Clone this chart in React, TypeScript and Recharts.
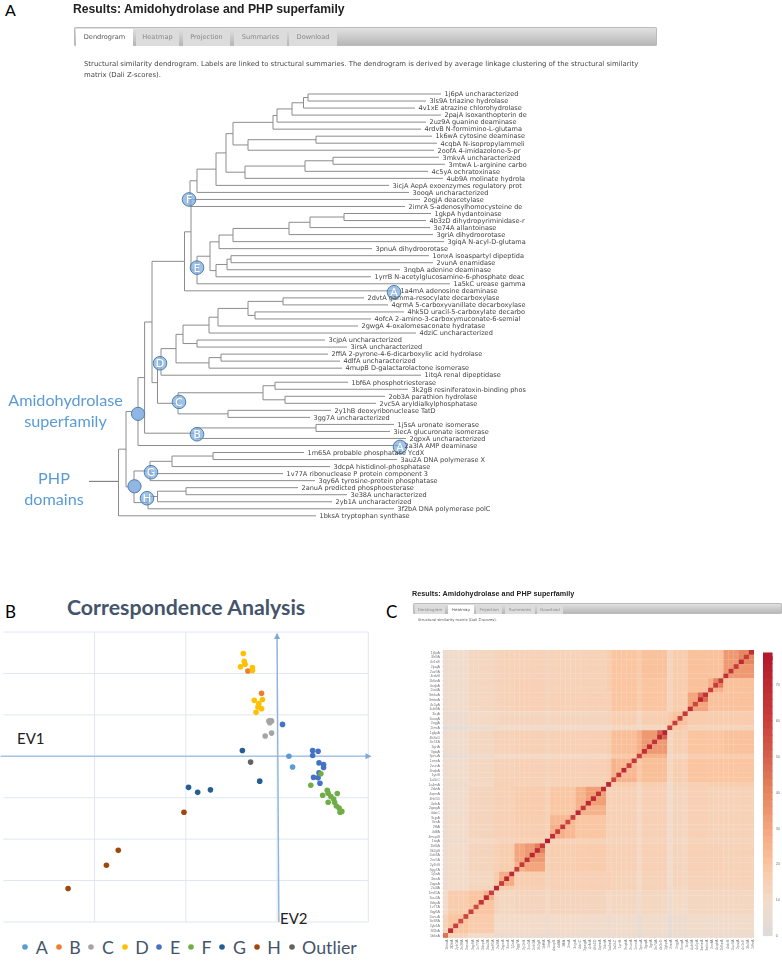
import React from 'react';
import {
  ComposedChart, ScatterChart, Scatter, Line, XAxis, YAxis, LabelList, CartesianGrid,
  ReferenceLine, ReferenceDot, Legend,
} from 'recharts';

const leafNames = [
  '1j6pA uncharacterized', '3ls9A triazine hydrolase', '4v1xE atrazine chlorohydrolase', '2pajA isoxanthopterin de',
  '2uz9A guanine deaminase', '4rdvB N-formimino-L-glutama', '1k6wA cytosine deaminase', '4cqbA N-isopropylammeli',
  '2oofA 4-imidazolone-5-pr', '3mkvA uncharacterized', '3mtwA L-arginine carbo', '4c5yA ochratoxinase',
  '4ub9A molinate hydrola', '3icjA AepA exoenzymes regulatory prot', '3ooqA uncharacterized', '2ogjA deacetylase',
  '2imrA S-adenosylhomocysteine de', '1gkpA hydantoinase', '4b3zD dihydropyriminidase-r', '3e74A allantoinase',
  '3griA dihydroorotase', '3giqA N-acyl-D-glutama', '3pnuA dihydroorotase', '1onxA isoaspartyl dipeptida',
  '2vunA enamidase', '3nqbA adenine deaminase', '1yrrB N-acetylglucosamine-6-phosphate deac', '1a5kC urease gamma',
  '1a4mA adenosine deaminase', '2dvtA gamma-resocylate decarboxylase', '4qrmA 5-carboxyvanillate decarboxylase',
  '4hk5D uracil-5-carboxylate decarbo', '4ofcA 2-amino-3-carboxymuconate-6-semial', '2gwgA 4-oxalomesaconate hydratase',
  '4dziC uncharacterized', '3cjpA uncharacterized', '3irsA uncharacterized', '2ffiA 2-pyrone-4-6-dicarboxylic acid hydrolase',
  '4dlfA uncharacterized', '4mupB D-galactarolactone isomerase', '1itqA renal dipeptidase', '1bf6A phosphotriesterase',
  '3k2gB resiniferatoxin-binding phos', '2ob3A parathion hydrolase', '2vc5A aryldialkylphosphatase', '2y1hB deoxyribonuclease TatD',
  '3gg7A uncharacterized', '1j5sA uronate isomerase', '3iecA glucuronate isomerase', '2qpxA uncharacterized', '2a3lA AMP deaminase',
  '1m65A probable phosphatase YcdX', '3au2A DNA polymerase X', '3dcpA histidinol-phosphatase', '1v77A ribonuclease P protein component 3',
  '3qy6A tyrosine-protein phosphatase', '2anuA predicted phosphoesterase', '3e38A uncharacterized', '2yb1A uncharacterized',
  '3f2bA DNA polymerase polC', '1bksA tryptophan synthase',
];
const leafEnds = [
  441, 426, 415, 441, 426, 421, 432, 437, 434, 439, 445, 428, 443, 389, 409, 420, 405, 431, 426, 430, 433, 444, 372, 429, 433, 400, 371,
  450, 397, 364, 388, 404, 371, 358, 416, 325, 347, 328, 340, 342, 421, 348, 408, 385, 376, 331, 310, 394, 390, 406, 401, 304, 397, 330,
  283, 315, 298, 347, 332, 394, 316,
];
// [branch position, ...children]; a number child is a 1-based leaf.
const cladeF = [190, [197, [216, [226, [233, [273, [277, [292, [303.5, [308, 1, 2], 3], 4], 5], 6], [248, [316, 7, 8], 9]], [245, [305, [333, 10, 11], 12], 13]], 14], 15], 16, 17];
const cladeE = [197, [210, [219, [233, [289, [310, [344, 18, 19], 20], 21], 22], 23], [216, [227, [231, 24, 25], 26], 27]], 28];
const cladeD = [161, [176, [183, [209, [218, [248, [283, 30, 31], [255, 32, 33]], 34], 35], [197, 36, 37]], [209, [221, 38, 39], 40]], 41];
const cladeC = [178, [263, [275, 42, 43], [285, 44, 45]], [228, 46, 47]];
const cladeB = [197, [316, 48, 49], 50];
const cladeG = [150, [172, [213, 52, 53], 54], 55, 56];
const cladeH = [148, [157.5, [186, 57, 58], 59], 60];
const cladeAmido = [138, [144.6, [152, [184.5, [191, cladeF, cladeE], 29], [157.5, cladeD, cladeC]], cladeB], 51];
const treeRoot = [118.5, [126, cladeAmido, [134, cladeG, cladeH]], 61];

const nodeBadges = [
  { x: 189, y: 15.0, t: 'F' }, { x: 197, y: 24.7, t: 'E' }, { x: 394, y: 28.2, t: 'A' }, { x: 160, y: 38.3, t: 'D' },
  { x: 179, y: 43.8, t: 'C' }, { x: 197, y: 48.4, t: 'B' }, { x: 400, y: 50.2, t: 'A' }, { x: 151, y: 53.8, t: 'G' },
  { x: 147, y: 57.5, t: 'H' }, { x: 138, y: 45.5, t: '' }, { x: 134.5, y: 55.8, t: '' },
];

type Pt = { x: number; y: number | null };
function walk(node: any, out: Pt[]): { x: number; y: number } {
  if (typeof node === 'number') return { x: leafEnds[node - 1], y: node - 1 };
  const [bx, ...kids] = node;
  const pos = kids.map((k: any) => walk(k, out));
  const y = (pos[0].y + pos[pos.length - 1].y) / 2;
  out.push({ x: bx, y: pos[0].y }, { x: bx, y: pos[pos.length - 1].y }, { x: bx, y: null });
  pos.forEach((p: any) => out.push({ x: bx, y: p.y }, { x: p.x, y: p.y }, { x: p.x, y: null }));
  return { x: bx, y };
}
const treePath: Pt[] = [];
walk(treeRoot, treePath);
const leafPoints = leafNames.map((name, i) => ({ x: leafEnds[i], y: i, name }));

const seriesA = [{ x: 0.13, y: 0 }, { x: 0.17, y: -0.26 }];
const seriesB = [{ x: -0.32, y: 2.06 }, { x: -0.17, y: 1.52 }];
const seriesC = [{ x: -0.09, y: 0.85 }, { x: -0.07, y: 0.86 }, { x: -0.08, y: 0.81 }, { x: -0.06, y: 0.85 }, { x: -0.06, y: 0.56 }, { x: -0.13, y: 0.49 }];
const seriesD = [{ x: -0.37, y: 2.48 }, { x: -0.36, y: 2.29 }, { x: -0.35, y: 2.22 }, { x: -0.4, y: 2.16 }, { x: -0.27, y: 2.14 }, { x: -0.27, y: 2.07 }, { x: -0.25, y: 1.35 }, { x: -0.16, y: 1.37 }, { x: -0.2, y: 1.27 }, { x: -0.21, y: 1.19 }, { x: -0.17, y: 1.15 }, { x: -0.23, y: 1.06 }];
const seriesE = [{ x: 0.06, y: 0.77 }, { x: 0.39, y: 0.14 }, { x: 0.45, y: 0.12 }, { x: 0.39, y: 0.02 }, { x: 0.46, y: -0.16 }, { x: 0.51, y: -0.2 }, { x: 0.51, y: -0.27 }, { x: 0.46, y: -0.4 }, { x: 0.4, y: -0.51 }, { x: 0.45, y: -0.52 }, { x: 0.47, y: -0.65 }];
const seriesF = [{ x: 0.48, y: -0.42 }, { x: 0.37, y: -0.7 }, { x: 0.55, y: -0.82 }, { x: 0.56, y: -0.89 }, { x: 0.5, y: -0.94 }, { x: 0.66, y: -0.9 }, { x: 0.59, y: -0.97 }, { x: 0.62, y: -1.03 }, { x: 0.56, y: -1.11 }, { x: 0.63, y: -1.11 }, { x: 0.65, y: -1.2 }, { x: 0.68, y: -1.25 }, { x: 0.71, y: -1.33 }, { x: 0.69, y: -1.35 }];
const seriesG = [{ x: -0.38, y: 0.14 }, { x: -0.19, y: -0.6 }, { x: -0.97, y: -0.75 }, { x: -0.87, y: -0.87 }, { x: -0.73, y: -0.81 }];
const seriesH = [{ x: -1.02, y: -1.35 }, { x: -1.74, y: -2.27 }, { x: -1.87, y: -2.63 }, { x: -2.29, y: -3.19 }];
const seriesOutlier = [{ x: -0.29, y: -0.14 }];
const caSeries = [
  { name: 'A', color: '#5b9bd5', data: seriesA }, { name: 'B', color: '#ed7d31', data: seriesB },
  { name: 'C', color: '#a5a5a5', data: seriesC }, { name: 'D', color: '#ffc000', data: seriesD },
  { name: 'E', color: '#4472c4', data: seriesE }, { name: 'F', color: '#70ad47', data: seriesF },
  { name: 'G', color: '#255e91', data: seriesG }, { name: 'H', color: '#9e480e', data: seriesH },
  { name: 'Outlier', color: '#636363', data: seriesOutlier },
];
const caXGrid = [-3, -2, -1, 0, 1];
const caYGrid = [-4, -3, -2, -1, 0, 1, 2, 3];

// Last leaf (1-based) of each block of the similarity matrix.
const blockEnds = [6, 9, 13, 17, 23, 28, 29, 35, 40, 41, 47, 50, 51, 56, 60, 61];
const blockZ = [
  [30, 21, 21, 17, 21, 20, 17, 14, 14, 14, 14, 14, 13, 12, 9, 8],
  [21, 28, 21, 17, 20, 20, 17, 14, 14, 14, 15, 14, 13, 12, 9, 8],
  [21, 21, 30, 17, 20, 20, 16, 15, 15, 14, 15, 14, 13, 12, 9, 8],
  [17, 17, 17, 22, 16, 16, 15, 13, 13, 13, 13, 13, 12, 11, 8, 7],
  [21, 20, 20, 16, 30, 22, 17, 15, 15, 14, 15, 14, 14, 12, 9, 8],
  [20, 20, 20, 16, 22, 26, 18, 15, 15, 14, 15, 14, 14, 12, 9, 8],
  [17, 17, 16, 15, 17, 18, 30, 15, 15, 14, 15, 16, 16, 12, 9, 8],
  [14, 14, 15, 13, 15, 15, 15, 30, 19, 15, 17, 15, 15, 13, 9, 8],
  [14, 14, 15, 13, 15, 15, 15, 19, 24, 15, 16, 15, 15, 13, 10, 8],
  [14, 14, 14, 13, 14, 14, 14, 15, 15, 30, 15, 14, 13, 12, 9, 8],
  [14, 15, 15, 13, 15, 15, 15, 17, 16, 15, 30, 16, 15, 13, 10, 8],
  [14, 14, 14, 13, 14, 14, 16, 15, 15, 14, 16, 32, 17, 12, 10, 8],
  [13, 13, 13, 12, 14, 14, 16, 15, 15, 13, 15, 17, 30, 13, 10, 8],
  [12, 12, 12, 11, 12, 12, 12, 13, 13, 12, 13, 12, 13, 20, 17, 10],
  [9, 9, 9, 8, 9, 9, 9, 9, 10, 9, 10, 10, 10, 17, 20, 14],
  [8, 8, 8, 7, 8, 8, 8, 8, 8, 8, 8, 8, 8, 10, 14, 40],
];
// [first leaf, last leaf, z] for the darker squares along the diagonal.
const hotSquares = [
  [1, 6, 34], [1, 3, 40], [7, 9, 27], [7, 8, 42], [10, 13, 30], [10, 11, 47], [18, 22, 34], [18, 19, 50], [24, 27, 24],
  [30, 35, 26], [30, 33, 32], [36, 37, 24], [38, 40, 27], [42, 45, 34], [42, 43, 42], [46, 47, 26], [48, 49, 42],
  [48, 50, 28], [52, 56, 20], [52, 53, 26], [57, 60, 20],
];
const stripeLeaves = [[17, -4], [23, -4], [14, -1], [41, -1], [29, -1]];
const diagonalZ = [68, 62, 70, 62, 66, 68, 64, 62, 60, 66, 72, 58, 68, 64, 60, 62, 60, 74, 70, 66, 70, 68, 60, 64, 62, 70, 66, 58, 72, 70, 66, 70, 72, 64, 72, 60, 58, 64, 62, 68, 76, 64, 70, 72, 68, 64, 62, 70, 72, 62, 72, 60, 70, 66, 56, 60, 58, 56, 60, 70, 45];
const colorStops: [number, number[]][] = [
  [0, [220, 220, 220]], [10, [243, 219, 201]], [20, [250, 197, 160]], [30, [244, 165, 125]],
  [40, [230, 135, 95]], [50, [214, 96, 77]], [60, [203, 63, 58]], [79, [178, 24, 43]],
];
const colorBarSteps = [1, 3, 5, 7, 9, 11, 13, 15, 17, 19, 21, 23, 25, 27, 29, 31, 33, 35, 37, 39, 41, 43, 45, 47, 49, 51, 53, 55, 57, 59, 61, 63, 65, 67, 69, 71, 73, 75, 77, 78];
const colorBarTicks = [0, 10, 20, 30, 40, 50, 60, 70];

function zColor(z: number) {
  for (let i = 1; i < colorStops.length; i++) {
    const [b, cb] = colorStops[i];
    const [a, ca] = colorStops[i - 1];
    if (z <= b) {
      const t = (z - a) / (b - a);
      return `rgb(${ca.map((c, k) => Math.round(c + (cb[k] - c) * t)).join(',')})`;
    }
  }
  return 'rgb(178,24,43)';
}
const blockOf = (leaf: number) => blockEnds.findIndex((e) => leaf <= e);
function cellZ(r: number, c: number) {
  if (r === c) return diagonalZ[r - 1];
  let z = blockZ[blockOf(r)][blockOf(c)];
  hotSquares.forEach(([a, b, v]) => {
    if (r >= a && r <= b && c >= a && c <= b) z = v;
  });
  stripeLeaves.forEach(([l, d]) => {
    if (r === l || c === l) z += d;
  });
  return z;
}
const heatCells: { x: number; y: number; z: number }[] = [];
leafNames.forEach((_, ri) => leafNames.forEach((__, ci) => {
  heatCells.push({ x: ci + 0.5, y: ri + 0.5, z: cellZ(ri + 1, 61 - ci) });
}));
const heatTicks = leafNames.map((_, i) => i + 0.5);
const shortName = (i: number) => leafNames[i].split(' ')[0];

const HEAT_W = 311;
const HEAT_H = 287.7;

const abs = (left: number, top: number, extra: React.CSSProperties = {}): React.CSSProperties => ({
  position: 'absolute', left, top, whiteSpace: 'nowrap', ...extra,
});

function Tabs({ left, top, width, height, font, tabs, active }: any) {
  return (
    <div style={abs(left, top, { width, height, background: 'linear-gradient(#e4e4e4,#b4b4b4)', borderRadius: 2, boxShadow: 'inset 0 0 0 1px #bbb' })}>
      {tabs.map((t: any, i: number) => (
        <div key={t[0]} style={abs(t[1] - left, 2, {
          width: t[2] - t[1], height: height - 2, background: i === active ? '#fff' : '#dcdcdc', color: i === active ? '#555' : '#888',
          fontFamily: 'DejaVu Sans', fontSize: font, textAlign: 'center', lineHeight: `${height - 2}px`,
        })}>{t[0]}</div>
      ))}
    </div>
  );
}
const Badge = (p: any) => {
  const t = p.payload.t;
  return (
    <g>
      <circle cx={p.cx} cy={p.cy} r={t ? 6.8 : 6.6} fill={t ? '#7faedd' : '#8fb6e4'} fillOpacity={t ? 0.75 : 1} stroke="#4f7fa8" strokeWidth={1} />
      {t ? <text x={p.cx} y={p.cy + 4} textAnchor="middle" fontSize={11} fontFamily="Lato" fill="#fff">{t}</text> : null}
    </g>
  );
};
const LeafLabel = (p: any) => (
  <text x={p.x + 8} y={p.y + p.height / 2 + 2.3} fontSize={6.55} fontFamily="DejaVu Sans" fill="#444">{p.value}</text>
);
const Triangle = (dir: 'up' | 'right') => (p: any) => {
  const { cx, cy } = p;
  const pts = dir === 'up' ? `${cx},${cy - 1} ${cx - 3},${cy + 5} ${cx + 3},${cy + 5}` : `${cx + 5},${cy} ${cx - 1},${cy - 3} ${cx - 1},${cy + 3}`;
  return <polygon points={pts} fill="#7ea9d6" />;
};
const CaLegend = (p: any) => (
  <div style={{ height: 30, paddingTop: 10, display: 'flex', alignItems: 'center', fontFamily: 'Lato', fontSize: 17.8, color: '#44546a' }}>
    {p.payload.filter((e: any) => e.type !== 'none').map((e: any, i: number) => (
      <span key={e.value} style={{ display: 'inline-flex', alignItems: 'center', marginLeft: i === 0 ? 19 : 0, marginRight: 7.8 }}>
        <svg width={6} height={6} style={{ marginRight: 7.5 }}><circle cx={3} cy={3} r={2.8} fill={e.color} /></svg>
        {e.value}
      </span>
    ))}
  </div>
);
const blue = '#5b9bd5';

export default function App() {
  return (
    <div style={{ position: 'absolute', left: 0, top: 0, width: 782, height: 963, overflow: 'hidden', background: '#fff', fontFamily: 'Liberation Sans' }}>
      <div style={abs(5, 1, { fontSize: 16, lineHeight: '18px', fontFamily: 'Lato' })}>A</div>
      <div style={abs(5, 601, { fontSize: 17, fontFamily: 'Lato' })}>B</div>
      <div style={abs(386, 601, { fontSize: 17, fontFamily: 'Lato' })}>C</div>

      <div style={{ filter: 'blur(0.3px)' }}>
        <div style={abs(73, 2, { fontSize: 12.2, fontWeight: 'bold', color: '#222' })}>Results: Amidohydrolase and PHP superfamily</div>
        <Tabs left={74} top={27} width={583} height={19} font={6.6} active={0}
          tabs={[['Dendrogram', 76, 133], ['Heatmap', 136, 179], ['Projection', 183, 230], ['Summaries', 234, 287], ['Download', 289, 337]]} />
        <div style={abs(84, 58.5, { fontSize: 6.9, lineHeight: '11px', fontFamily: 'DejaVu Sans', color: '#444' })}>
          Structural similarity dendrogram. Labels are linked to structural summaries. The dendrogram is derived by average linkage clustering of the structural similarity<br />matrix (Dali Z-scores).
        </div>
        <div style={abs(0, 0)}>
          <ComposedChart width={527} height={530} margin={{ top: 0, right: 0, bottom: 0, left: 0 }}>
            <XAxis type="number" dataKey="x" domain={[0, 527]} hide />
            <YAxis type="number" dataKey="y" domain={[-13.37, 62.02]} reversed hide />
            <ReferenceLine segment={[{ x: 89, y: 55.1 }, { x: 118.5, y: 55.1 }]} stroke="#6f6f6f" strokeWidth={1} />
            <Line data={treePath} dataKey="y" stroke="#8c8c8c" strokeWidth={1} dot={false} activeDot={false} connectNulls={false} isAnimationActive={false} />
            <Scatter data={leafPoints} shape={() => <g />} isAnimationActive={false}>
              <LabelList dataKey="name" content={LeafLabel} />
            </Scatter>
            <Scatter data={nodeBadges} shape={Badge} isAnimationActive={false} />
          </ComposedChart>
        </div>
      </div>

      <div style={abs(8, 389, { width: 115, textAlign: 'center', fontSize: 16.2, lineHeight: '21px', fontFamily: 'Lato', color: blue })}>Amidohydrolase<br />superfamily</div>
      <div style={abs(24, 467, { width: 60, textAlign: 'center', fontSize: 16.2, lineHeight: '21px', fontFamily: 'Lato', color: blue })}>PHP<br />domains</div>

      <div style={abs(67, 594, { fontSize: 21.3, fontWeight: 'bold', fontFamily: 'Lato', color: '#44546a' })}>Correspondence Analysis</div>
      <div style={abs(0, 625)}>
        <ScatterChart width={375} height={337} margin={{ top: 7, right: 6.7, bottom: 0, left: 3.3 }}>
          <CartesianGrid stroke="#e0e7f1" verticalValues={caXGrid} horizontalValues={caYGrid} syncWithTicks={false} />
          <XAxis type="number" dataKey="x" domain={[-3, 1]} hide />
          <YAxis type="number" dataKey="y" domain={[-4, 3]} hide />
          <ReferenceLine segment={[{ x: -3.03, y: 0 }, { x: 0.98, y: 0 }]} stroke="#a4c3e6" strokeWidth={1.4} ifOverflow="visible" />
          <ReferenceLine segment={[{ x: 0, y: 2.95 }, { x: 0.02, y: -4 }]} stroke="#8fb4dc" strokeWidth={1.4} ifOverflow="visible" />
          <ReferenceDot x={0.98} y={0} shape={Triangle('right')} ifOverflow="visible" />
          <ReferenceDot x={0} y={2.95} shape={Triangle('up')} ifOverflow="visible" />
          {caSeries.map((s) => (
            <Scatter key={s.name} name={s.name} data={s.data} fill={s.color} isAnimationActive={false}
              shape={(p: any) => <circle cx={p.cx} cy={p.cy} r={2.8} fill={s.color} />} />
          ))}
          <Legend content={CaLegend} verticalAlign="bottom" height={40} />
        </ScatterChart>
      </div>
      <div style={abs(17, 729, { fontSize: 15, fontFamily: 'Lato', color: '#222' })}>EV1</div>
      <div style={abs(280, 909, { fontSize: 15, fontFamily: 'Lato', color: '#222' })}>EV2</div>

      <div style={{ filter: 'blur(0.35px)' }}>
        <div style={abs(412, 589, { fontSize: 7.2, fontWeight: 'bold', color: '#222', letterSpacing: 0.05 })}>Results: Amidohydrolase and PHP superfamily</div>
        <Tabs left={413} top={603} width={369} height={11} font={3.9} active={1}
          tabs={[['Dendrogram', 415, 445], ['Heatmap', 448, 474], ['Projection', 476, 502], ['Summaries', 505, 535], ['Download', 537, 563]]} />
        <div style={abs(418, 618, { fontSize: 3.7, fontFamily: 'DejaVu Sans', color: '#555' })}>Structural similarity matrix (Dali Z-scores).</div>
        <div style={abs(400, 640)}>
          <ScatterChart width={354} height={315} margin={{ top: 10, right: 0, bottom: 0.3, left: 13 }}>
            <XAxis type="number" dataKey="x" domain={[0, 61]} ticks={heatTicks} interval={0} height={17} angle={-90} textAnchor="end"
              tickFormatter={(v: number) => shortName(60 - Math.floor(v))} tick={{ fontSize: 3.6, fill: '#777', dy: -1 }}
              tickSize={1} axisLine={false} tickLine={{ stroke: '#bbb', strokeWidth: 0.4 }} />
            <YAxis type="number" dataKey="y" domain={[0, 61]} reversed ticks={heatTicks} interval={0} width={30}
              tickFormatter={(v: number) => shortName(Math.floor(v))} tick={{ fontSize: 3.6, fill: '#777' }}
              tickSize={1} axisLine={false} tickLine={{ stroke: '#bbb', strokeWidth: 0.4 }} />
            <Scatter data={heatCells} isAnimationActive={false}
              shape={(p: any) => (
                <rect x={p.cx - HEAT_W / 122} y={p.cy - HEAT_H / 122} width={HEAT_W / 61 + 0.2} height={HEAT_H / 61 + 0.2} fill={zColor(p.payload.z)} />
              )} />
          </ScatterChart>
        </div>
        <div style={abs(763, 650)}>
          <ScatterChart width={19} height={290} margin={{ top: 2.9, right: 0, bottom: 4.3, left: 0 }}>
            <XAxis type="number" dataKey="x" domain={[0, 1]} hide />
            <YAxis type="number" dataKey="y" orientation="right" domain={[0, 79]} ticks={colorBarTicks} interval={0} width={9.3}
              tick={{ fontSize: 3.8, fill: '#777' }} tickSize={1} axisLine={false} tickLine={false} />
            <Scatter data={colorBarSteps.map((v) => ({ x: 0.5, y: v }))} isAnimationActive={false}
              shape={(p: any) => <rect x={p.cx - 5} y={p.cy - 4} width={9.7} height={8} fill={zColor(p.payload.y)} />} />
          </ScatterChart>
        </div>
      </div>
    </div>
  );
}
